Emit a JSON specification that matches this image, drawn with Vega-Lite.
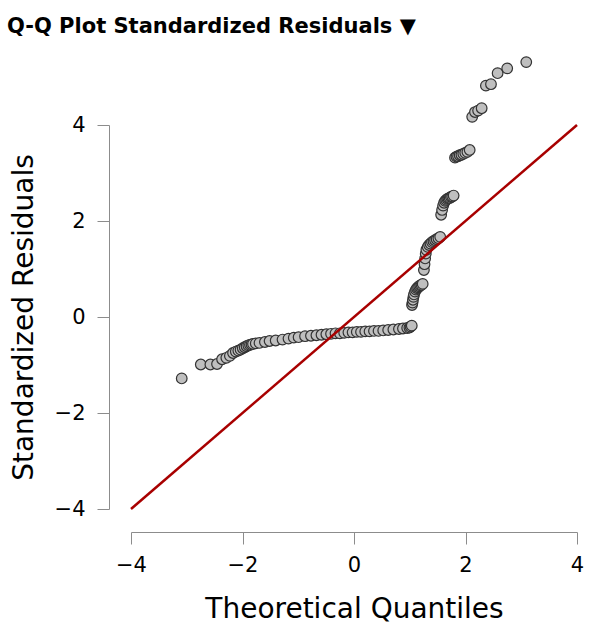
{
  "$schema": "https://vega.github.io/schema/vega-lite/v6.json",
  "width": 446,
  "height": 384,
  "autosize": {"type": "none"},
  "padding": {"left": 131, "top": 125, "right": 19, "bottom": 121},
  "background": "white",
  "title": {
    "text": "Q-Q Plot Standardized Residuals ▼",
    "anchor": "start",
    "frame": "group",
    "dx": -124,
    "offset": 0,
    "baseline": "alphabetic",
    "fontSize": 21,
    "fontWeight": "bold",
    "font": "DejaVu Sans",
    "color": "#000000"
  },
  "config": {
    "view": {"stroke": null},
    "axis": {
      "grid": false,
      "domainColor": "#8c8c8c",
      "tickColor": "#8c8c8c",
      "domainWidth": 1,
      "tickWidth": 1,
      "tickSize": 12,
      "labelFont": "DejaVu Sans",
      "titleFont": "DejaVu Sans",
      "labelFontSize": 21,
      "titleFontSize": 28,
      "titleFontWeight": "normal",
      "labelColor": "#000000",
      "titleColor": "#000000",
      "labelFlush": false,
      "labelOverlap": false
    }
  },
  "layer": [
    {
      "data": {
        "values": [
          {"x": -3.090, "y": -1.28}, {"x": -2.748, "y": -0.99}, {"x": -2.576, "y": -0.99}, {"x": -2.457, "y": -0.98},
          {"x": -2.366, "y": -0.88}, {"x": -2.290, "y": -0.85}, {"x": -2.226, "y": -0.81}, {"x": -2.170, "y": -0.75},
          {"x": -2.120, "y": -0.72}, {"x": -2.075, "y": -0.70}, {"x": -2.034, "y": -0.68}, {"x": -1.995, "y": -0.65},
          {"x": -1.960, "y": -0.63}, {"x": -1.927, "y": -0.61}, {"x": -1.896, "y": -0.59}, {"x": -1.866, "y": -0.58},
          {"x": -1.838, "y": -0.57}, {"x": -1.812, "y": -0.56}, {"x": -1.762, "y": -0.55},
          {"x": -1.695, "y": -0.54}, {"x": -1.598, "y": -0.52}, {"x": -1.514, "y": -0.50}, {"x": -1.405, "y": -0.49},
          {"x": -1.282, "y": -0.47}, {"x": -1.175, "y": -0.45}, {"x": -1.080, "y": -0.43}, {"x": -0.994, "y": -0.42},
          {"x": -0.878, "y": -0.40}, {"x": -0.772, "y": -0.39}, {"x": -0.674, "y": -0.38}, {"x": -0.583, "y": -0.37},
          {"x": -0.496, "y": -0.36}, {"x": -0.412, "y": -0.35}, {"x": -0.332, "y": -0.34}, {"x": -0.253, "y": -0.34},
          {"x": -0.176, "y": -0.33}, {"x": -0.100, "y": -0.32}, {"x": -0.025, "y": -0.32}, {"x": 0.050, "y": -0.31},
          {"x": 0.126, "y": -0.31}, {"x": 0.202, "y": -0.30}, {"x": 0.279, "y": -0.30}, {"x": 0.358, "y": -0.29},
          {"x": 0.440, "y": -0.29}, {"x": 0.524, "y": -0.28}, {"x": 0.613, "y": -0.27}, {"x": 0.706, "y": -0.26},
          {"x": 0.806, "y": -0.25}, {"x": 0.878, "y": -0.24}, {"x": 0.954, "y": -0.23}, {"x": 0.994, "y": -0.22},
          {"x": 1.015, "y": -0.20}, {"x": 1.036, "y": -0.18},
          {"x": 1.041, "y": 0.25}, {"x": 1.050, "y": 0.30}, {"x": 1.058, "y": 0.36}, {"x": 1.067, "y": 0.42},
          {"x": 1.076, "y": 0.47}, {"x": 1.094, "y": 0.53}, {"x": 1.112, "y": 0.57}, {"x": 1.131, "y": 0.60},
          {"x": 1.150, "y": 0.62}, {"x": 1.170, "y": 0.64}, {"x": 1.190, "y": 0.66}, {"x": 1.211, "y": 0.67},
          {"x": 1.232, "y": 0.69},
          {"x": 1.254, "y": 0.98}, {"x": 1.265, "y": 1.10}, {"x": 1.276, "y": 1.22}, {"x": 1.287, "y": 1.32},
          {"x": 1.298, "y": 1.40}, {"x": 1.322, "y": 1.46}, {"x": 1.347, "y": 1.50}, {"x": 1.372, "y": 1.53},
          {"x": 1.398, "y": 1.56}, {"x": 1.426, "y": 1.58}, {"x": 1.454, "y": 1.60}, {"x": 1.483, "y": 1.62},
          {"x": 1.514, "y": 1.64}, {"x": 1.546, "y": 1.67},
          {"x": 1.563, "y": 2.13}, {"x": 1.580, "y": 2.23}, {"x": 1.598, "y": 2.32}, {"x": 1.616, "y": 2.38},
          {"x": 1.635, "y": 2.42}, {"x": 1.655, "y": 2.44}, {"x": 1.675, "y": 2.46}, {"x": 1.695, "y": 2.47},
          {"x": 1.717, "y": 2.48}, {"x": 1.739, "y": 2.50}, {"x": 1.762, "y": 2.51}, {"x": 1.787, "y": 2.53},
          {"x": 1.812, "y": 3.32}, {"x": 1.838, "y": 3.34}, {"x": 1.866, "y": 3.35}, {"x": 1.896, "y": 3.37},
          {"x": 1.927, "y": 3.38}, {"x": 1.960, "y": 3.40}, {"x": 1.995, "y": 3.42}, {"x": 2.034, "y": 3.44},
          {"x": 2.075, "y": 3.48},
          {"x": 2.120, "y": 4.17}, {"x": 2.170, "y": 4.27}, {"x": 2.226, "y": 4.30}, {"x": 2.290, "y": 4.35},
          {"x": 2.366, "y": 4.82}, {"x": 2.457, "y": 4.85}, {"x": 2.576, "y": 5.08}, {"x": 2.748, "y": 5.18},
          {"x": 3.090, "y": 5.31}
        ]
      },
      "mark": {"type": "circle", "size": 113, "fill": "#bfbfbf", "stroke": "#333333", "strokeWidth": 1.2, "opacity": 1},
      "encoding": {
        "x": {
          "field": "x",
          "type": "quantitative",
          "scale": {"domain": [-4, 4], "nice": false, "zero": false},
          "axis": {"title": "Theoretical Quantiles", "values": [-4, -2, 0, 2, 4], "format": "d", "offset": 23, "labelPadding": 10, "titlePadding": 20}
        },
        "y": {
          "field": "y",
          "type": "quantitative",
          "scale": {"domain": [-4, 4], "nice": false, "zero": false},
          "axis": {"title": "Standardized Residuals", "values": [-4, -2, 0, 2, 4], "format": "d", "offset": 22, "labelPadding": 12, "titlePadding": 22, "titleBaseline": "alphabetic"}
        }
      }
    },
    {
      "data": {"values": [{"x": -4, "y": -4, "x2": 4, "y2": 4}]},
      "mark": {"type": "rule", "color": "#a80000", "strokeWidth": 2.5},
      "encoding": {
        "x": {"field": "x", "type": "quantitative"},
        "y": {"field": "y", "type": "quantitative"},
        "x2": {"field": "x2"},
        "y2": {"field": "y2"}
      }
    }
  ]
}
